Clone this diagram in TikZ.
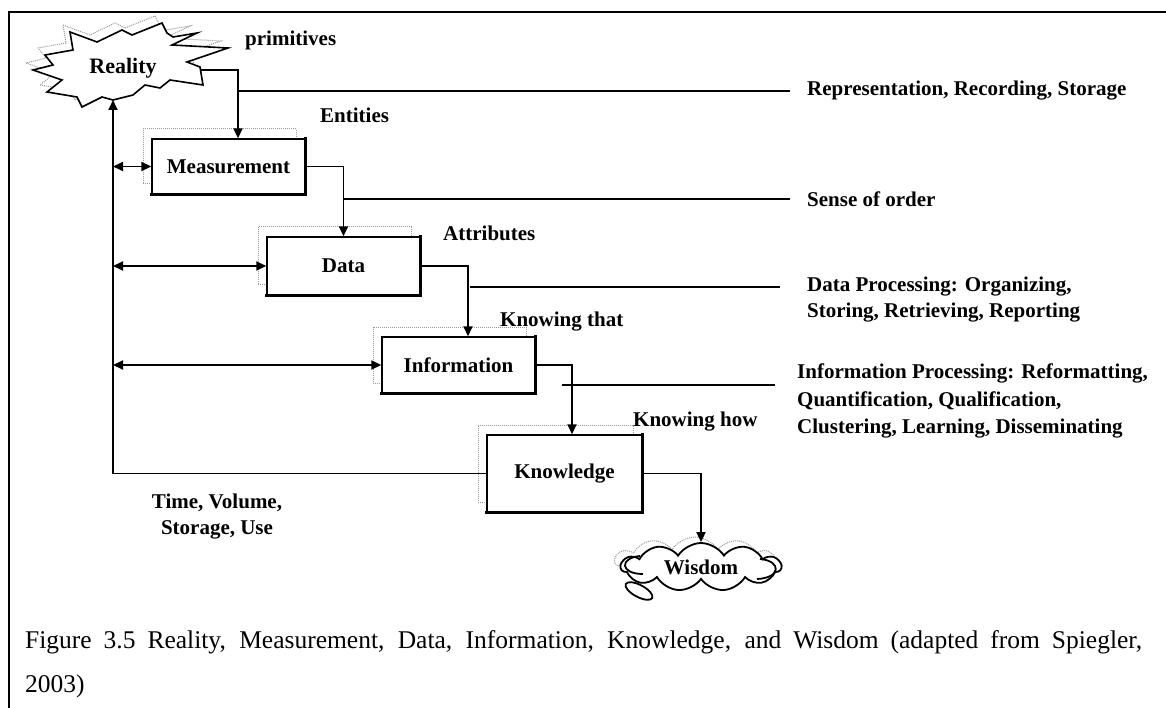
\documentclass[tikz,border=0pt]{standalone}
\usepackage{fontspec}
\setmainfont{Liberation Serif}
\usetikzlibrary{arrows.meta,calc,shapes.symbols}

\begin{document}
\begin{tikzpicture}[x=1pt,y=-1pt,
  tip/.tip={Triangle[length=10pt,width=9pt]},
  lbl/.style={font=\bfseries\fontsize{21}{26}\selectfont, inner sep=0pt},
  ghost/.style={draw=black!40, densely dotted, line width=1pt},
  stage/.style={draw, line width=1.4pt, fill=white, minimum width=153pt,
    minimum height=55pt, inner sep=0pt,
    font=\bfseries\fontsize{21}{24}\selectfont,
    preaction={ghost, transform canvas={xshift=-9pt,yshift=10pt}}},
  heavy/.style={line width=3.5pt, line cap=rect},
  conn/.style={line width=1.8pt, -tip},
  both/.style={line width=1.8pt, tip-tip},
  lead/.style={line width=1.4pt}]

\useasboundingbox (0,0) rectangle (1166,708);

% outer frame (top and left rules only)
\draw[line width=1.6pt] (9,708) -- (9,12) -- (1166,12);

% Reality starburst
\def\burst{(70,32) -- (97,42) -- (122,30) -- (132,35) -- (162,23) -- (167,33)
  -- (173,37) -- (197,33) -- (172,45) -- (228,48) -- (187,62) -- (200,67)
  -- (203,85) -- (170,80) -- (160,88) -- (145,85) -- (133,95) -- (113,100)
  -- (102,97) -- (82,107) -- (77,97) -- (47,92) -- (62,80) -- (33,70)
  -- (53,65) -- (45,55) -- (73,50) -- cycle}
\draw[ghost, shift={(-7,-7)}] \burst;
\draw[fill=white, line width=1.6pt, line join=miter] \burst;
\node[lbl, font=\bfseries\fontsize{22}{26}\selectfont] (reality) at (123,68) {Reality};
\coordinate (realE) at (200,70);
\coordinate (realS) at (113,100);

% stages
\node[stage] (meas) at (228.5,166.5) {Measurement};
\node[stage, minimum height=58pt] (data) at (343.5,266) {Data};
\node[stage, minimum height=56pt] (info) at (458.5,365) {Information};
\node[stage, minimum width=155pt, minimum height=77pt] (know) at (564.5,473.5) {Knowledge};
\foreach \n in {meas,data,info,know}
  \draw[heavy] (\n.north east) -- (\n.south east) -- (\n.south west);

% Wisdom cloud with its small trailing puff
\draw[line width=1.8pt, fill=white, rotate around={-28:(639,591)}] (639,591) ellipse (15 and 6);
\node[cloud, draw, fill=white, line width=1.8pt, cloud puffs=11, cloud puff arc=115,
  aspect=3.3, minimum width=160pt, minimum height=48pt, inner sep=0pt,
  font=\bfseries\fontsize{21}{24}\selectfont,
  preaction={ghost, transform canvas={xshift=-6pt,yshift=6pt}}] (wisdom) at (701,567) {Wisdom};
\draw[line width=1.8pt] (640,556) .. controls (619,558) and (620,574) .. (643,574);
\draw[line width=1.8pt] (760,559) .. controls (782,561) and (781,578) .. (757,579);

% labels
\node[lbl, anchor=west] (prim) at (245,40) {primitives};
\node[lbl, anchor=west] (ent) at (320,115) {Entities};
\node[lbl, anchor=west] (attr) at (443,233) {Attributes};
\node[lbl, anchor=west] (ktha) at (500,322) {Knowing that};
\node[lbl, anchor=west] (khow) at (633,422) {Knowing how};
\node[lbl, align=center] (tvsu) at (217,517) {Time, Volume,\\Storage, Use};

\node[lbl, anchor=west] (rep) at (807,91) {Representation, Recording, Storage};
\node[lbl, anchor=west] (ord) at (807,199) {Sense of order};
\node[lbl, anchor=west, align=left] (dp) at (807,300)
  {Data Processing: Organizing,\\Storing, Retrieving, Reporting};
\node[lbl, anchor=west, align=left, font=\bfseries\fontsize{21}{27.5}\selectfont] (ip) at (797,401)
  {Information Processing: Reformatting,\\Quantification, Qualification,\\Clustering, Learning, Disseminating};

% connectors
\draw[conn] (realE) -| ($(meas.north)+(9.5,0)$);
\draw[conn] (meas.east) -| (data.north);
\draw[conn] (data.east) -| ($(info.north)+(9.5,0)$);
\draw[conn] (info.east) -| ($(know.north)+(7.5,0)$);
\draw[conn] (know.east) -| (wisdom.north);
\draw[conn] (know.west) -| (realS);
\foreach \n in {meas,data,info}
  \draw[both] (\n.west -| realS) -- (\n.west);

% leader lines to the right-hand notes
\coordinate (j1) at (238,91);
\coordinate (j2) at (343.5,199);
\coordinate (j3) at (470,287);
\coordinate (j4) at (562,385);
\draw[lead] (j1) -- ($(rep.west)+(-17,0)$);
\draw[lead] (j2) -- ($(ord.west)+(-17,0)$);
\draw[lead] (j3) -- ($(dp.west |- j3)+(-27,0)$);
\draw[lead] (j4) -- ($(ip.west |- j4)+(-22,0)$);

% caption
\node[anchor=base west, inner sep=0pt, font=\fontsize{25.5}{28}\selectfont] (cap1) at (25,648)
  {\makebox[1117pt][s]{Figure 3.5 Reality, Measurement, Data, Information, Knowledge, and Wisdom (adapted from Spiegler,}};
\node[anchor=base west, inner sep=0pt, font=\fontsize{25.5}{28}\selectfont] (cap2) at (25,692) {2003)};
\end{tikzpicture}
\end{document}
